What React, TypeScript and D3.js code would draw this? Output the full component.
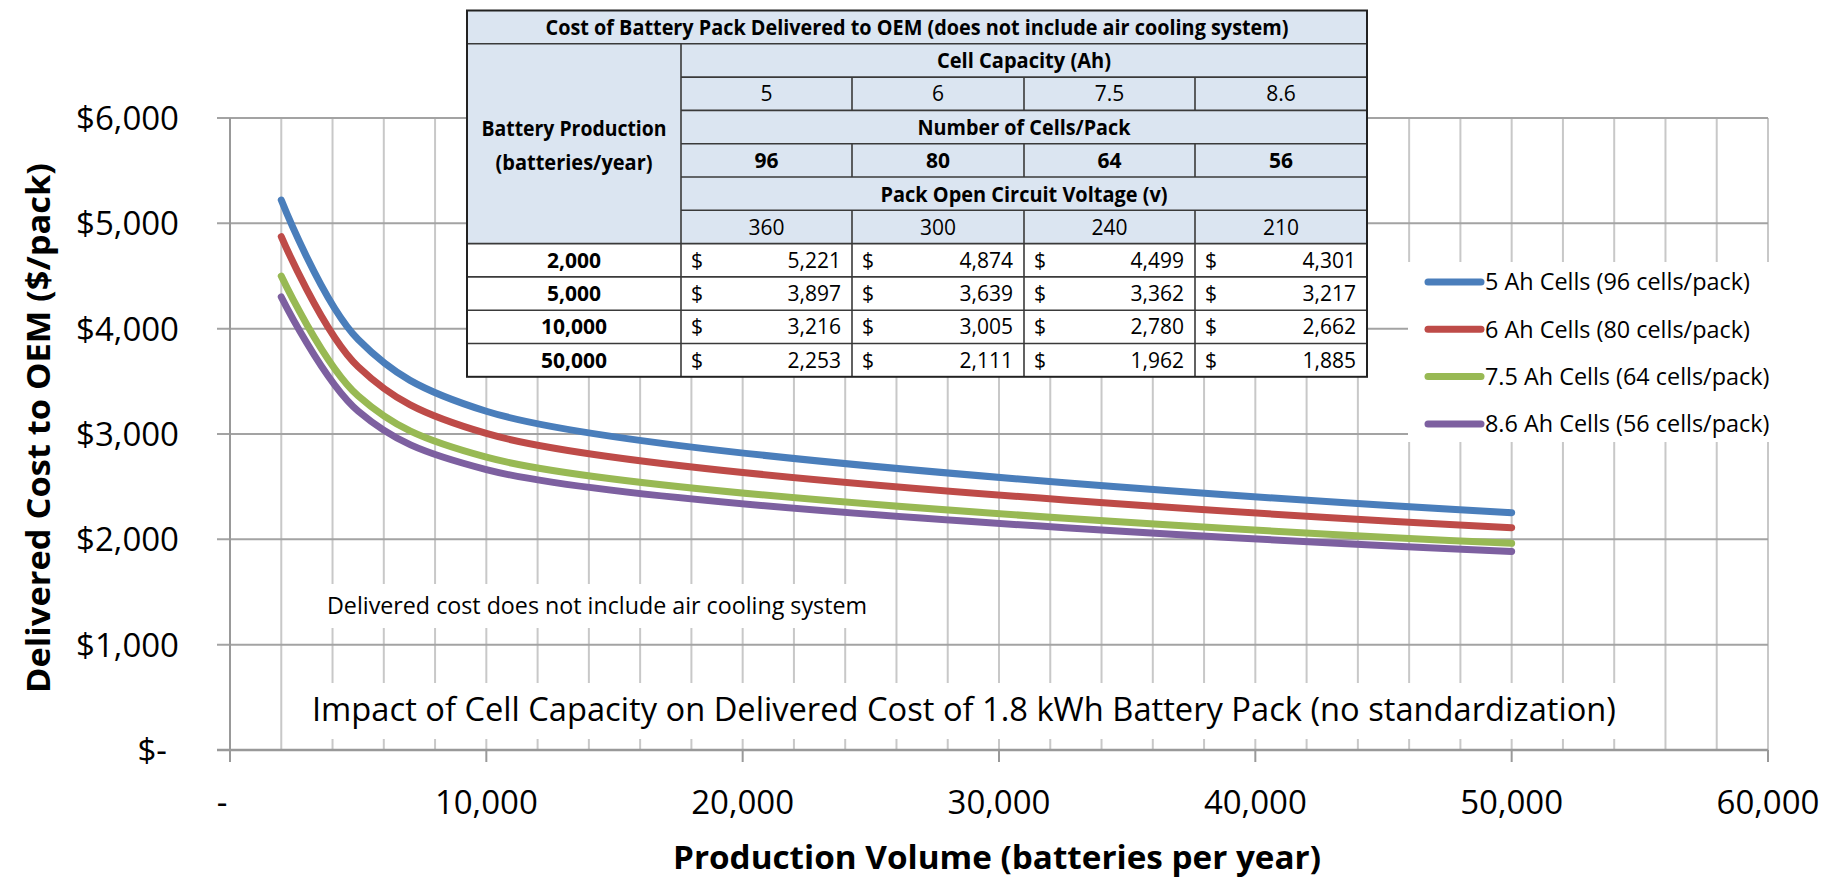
import React from 'react';
import * as d3 from 'd3';

// ---------- data ----------
const volumes = [2000, 5000, 10000, 50000];
const seriesLabels = [
  '5 Ah Cells (96 cells/pack)',
  '6 Ah Cells (80 cells/pack)',
  '7.5 Ah Cells (64 cells/pack)',
  '8.6 Ah Cells (56 cells/pack)',
];
const cellCapacities = ['5', '6', '7.5', '8.6'];
const cellsPerPack = [96, 80, 64, 56];
const packVoltages = [360, 300, 240, 210];
const cost5Ah = [5221, 3897, 3216, 2253];
const cost6Ah = [4874, 3639, 3005, 2111];
const cost75Ah = [4499, 3362, 2780, 1962];
const cost86Ah = [4301, 3217, 2662, 1885];
const seriesCosts = [cost5Ah, cost6Ah, cost75Ah, cost86Ah];
const seriesColors = ['#4a7ebb', '#be4b48', '#98b954', '#7d60a0'];
const xTicks = [0, 10000, 20000, 30000, 40000, 50000, 60000];
const yTicks = [0, 1000, 2000, 3000, 4000, 5000, 6000];
const tableTitle = 'Cost of Battery Pack Delivered to OEM (does not include air cooling system)';
const headCapacity = 'Cell Capacity (Ah)';
const headCells = 'Number of Cells/Pack';
const headVoltage = 'Pack Open Circuit Voltage (v)';
const headProd1 = 'Battery Production';
const headProd2 = '(batteries/year)';
const xTitle = 'Production Volume (batteries per year)';
const yTitle = 'Delivered Cost to OEM ($/pack)';
const noteText = 'Delivered cost does not include air cooling system';
const subtitleText = 'Impact of Cell Capacity on Delivered Cost of 1.8 kWh Battery Pack (no standardization)';

const FONT = "'Open Sans', 'Noto Sans', sans-serif";

export default function App() {
  const W = 1825, H = 879;
  const x = d3.scaleLinear().domain([0, 60000]).range([230, 1768]);
  const y = d3.scaleLinear().domain([0, 6000]).range([750, 118]);
  const line = d3
    .line<[number, number]>()
    .x((d) => x(d[0]))
    .y((d) => y(d[1]))
    .curve(d3.curveCatmullRom.alpha(0.5));
  const fmt = d3.format(',');
  const minorX = d3.range(2000, 60001, 2000);

  // table layout
  const tLeft = 467, tTop = 10.5, rowH = 33.3;
  const colEdges = [467, 681, 852, 1024, 1195, 1367];
  const rowY = (i: number) => tTop + i * rowH;
  const rowC = (i: number) => tTop + (i + 0.5) * rowH;
  const colC = (j: number) => (colEdges[j] + colEdges[j + 1]) / 2;
  const spanC = (colEdges[1] + colEdges[5]) / 2;
  const headFill = '#dbe5f1';
  const lineCol = '#3a3a3a';
  const tfs = 21;

  const tableLines: React.ReactNode[] = [];
  for (let r = 1; r <= 10; r++) {
    const x1 = r >= 2 && r <= 6 ? colEdges[1] : colEdges[0];
    tableLines.push(
      <line key={'h' + r} x1={x1} x2={colEdges[5]} y1={rowY(r)} y2={rowY(r)} stroke={lineCol} strokeWidth={1.6} />
    );
  }
  tableLines.push(
    <line key="v1" x1={colEdges[1]} x2={colEdges[1]} y1={rowY(1)} y2={rowY(11)} stroke={lineCol} strokeWidth={1.6} />
  );
  const splitRows = [2, 4, 6, 7, 8, 9, 10];
  for (const r of splitRows) {
    for (let c = 2; c <= 4; c++) {
      tableLines.push(
        <line key={'v' + r + '-' + c} x1={colEdges[c]} x2={colEdges[c]} y1={rowY(r)} y2={rowY(r + 1)} stroke={lineCol} strokeWidth={1.6} />
      );
    }
  }

  const boldHead = (txt: string, cx: number, cy: number, len: number, key: string) => (
    <text key={key} x={cx} y={cy} dy="0.36em" textAnchor="middle" fontWeight="bold" fontSize={22} textLength={len} lengthAdjust="spacingAndGlyphs">
      {txt}
    </text>
  );

  return (
    <svg width={W} height={H} style={{ position: 'absolute', left: 0, top: 0, background: '#fff' }} fontFamily={FONT}>
      <rect x={0} y={0} width={W} height={H} fill="#fff" />
      {minorX.map((v) => (
        <line key={'gx' + v} x1={x(v)} x2={x(v)} y1={y(6000)} y2={y(0)} stroke="#c8c8c8" strokeWidth={2} />
      ))}
      {yTicks.filter((v) => v > 0).map((v) => (
        <line key={'gy' + v} x1={217} x2={x(60000)} y1={y(v)} y2={y(v)} stroke="#a3a3a3" strokeWidth={2} />
      ))}
      <line x1={217} x2={x(60000)} y1={y(0)} y2={y(0)} stroke="#999" strokeWidth={2.5} />
      {xTicks.filter((v) => v > 0).map((v) => (
        <line key={'tx' + v} x1={x(v)} x2={x(v)} y1={y(0)} y2={y(0) + 12} stroke="#999" strokeWidth={2} />
      ))}
      <line x1={x(0)} x2={x(0)} y1={y(6000)} y2={y(0) + 12} stroke="#999" strokeWidth={2} />

      {yTicks.map((v) => (
        <text key={'yl' + v} x={v === 0 ? 167 : 179} y={y(v)} dy="0.36em" textAnchor="end" fontSize={33} fill="#000">
          {v === 0 ? '$-' : '$' + fmt(v)}
        </text>
      ))}
      {xTicks.map((v) => (
        <text key={'xl' + v} x={v === 0 ? x(v) - 8 : x(v)} y={814} textAnchor="middle" fontSize={33} fill="#000">
          {v === 0 ? '-' : fmt(v)}
        </text>
      ))}

      {seriesCosts.map((arr, i) => (
        <path
          key={'s' + i}
          d={line(volumes.map((v, k) => [v, arr[k]] as [number, number])) || ''}
          fill="none"
          stroke={seriesColors[i]}
          strokeWidth={7}
          strokeLinecap="round"
          strokeLinejoin="round"
        />
      ))}

      <text x={997} y={869} textAnchor="middle" fontWeight="bold" fontSize={33} textLength={648} lengthAdjust="spacingAndGlyphs">
        {xTitle}
      </text>
      <text
        transform="translate(38,428) rotate(-90)"
        textAnchor="middle"
        dy="0.36em"
        fontWeight="bold"
        fontSize={32}
        textLength={530}
        lengthAdjust="spacingAndGlyphs"
      >
        {yTitle}
      </text>

      <rect x={318} y={584} width={562} height={44} fill="#fff" />
      <text x={327} y={606} dy="0.36em" fontSize={23.4} textLength={540} lengthAdjust="spacingAndGlyphs">
        {noteText}
      </text>
      <rect x={300} y={683} width={1330} height={56} fill="#fff" />
      <text x={312} y={709} dy="0.36em" fontSize={33} textLength={1304} lengthAdjust="spacingAndGlyphs">
        {subtitleText}
      </text>

      <rect x={1408} y={262} width={390} height={180} fill="#fff" />
      {seriesLabels.map((lab, i) => {
        const cy = 282 + i * 47.3;
        return (
          <g key={'lg' + i}>
            <line x1={1428} x2={1481} y1={cy} y2={cy} stroke={seriesColors[i]} strokeWidth={7} strokeLinecap="round" />
            <text x={1485} y={cy} dy="0.36em" fontSize={23.4}>
              {lab}
            </text>
          </g>
        );
      })}

      <g>
        <rect x={tLeft} y={rowY(0)} width={colEdges[5] - tLeft} height={rowH * 7} fill={headFill} />
        <rect x={tLeft} y={rowY(7)} width={colEdges[5] - tLeft} height={rowH * 4} fill="#fff" />
        {tableLines}
        <rect x={tLeft} y={rowY(0)} width={colEdges[5] - tLeft} height={rowH * 11} fill="none" stroke="#222" strokeWidth={2} />
        {boldHead(tableTitle, (colEdges[0] + colEdges[5]) / 2, rowC(0), 743, 'tt')}
        {boldHead(headCapacity, spanC, rowC(1), 174, 'hc')}
        {boldHead(headCells, spanC, rowC(3), 213, 'hn')}
        {boldHead(headVoltage, spanC, rowC(5), 287, 'hv')}
        {boldHead(headProd1, colC(0), 128, 185, 'hp1')}
        {boldHead(headProd2, colC(0), 162, 157, 'hp2')}
        {cellCapacities.map((c, j) => (
          <text key={'cc' + j} x={colC(j + 1)} y={rowC(2)} dy="0.36em" textAnchor="middle" fontSize={tfs}>
            {c}
          </text>
        ))}
        {cellsPerPack.map((c, j) => (
          <text key={'cp' + j} x={colC(j + 1)} y={rowC(4)} dy="0.36em" textAnchor="middle" fontSize={tfs} fontWeight="bold">
            {c}
          </text>
        ))}
        {packVoltages.map((c, j) => (
          <text key={'pv' + j} x={colC(j + 1)} y={rowC(6)} dy="0.36em" textAnchor="middle" fontSize={tfs}>
            {c}
          </text>
        ))}
        {volumes.map((v, r) => (
          <g key={'row' + r}>
            <text x={colC(0)} y={rowC(7 + r)} dy="0.36em" textAnchor="middle" fontSize={tfs} fontWeight="bold">
              {fmt(v)}
            </text>
            {seriesCosts.map((arr, j) => (
              <g key={'c' + j}>
                <text x={colEdges[j + 1] + 10} y={rowC(7 + r)} dy="0.36em" fontSize={tfs}>
                  $
                </text>
                <text x={colEdges[j + 2] - 11} y={rowC(7 + r)} dy="0.36em" textAnchor="end" fontSize={tfs}>
                  {fmt(arr[r])}
                </text>
              </g>
            ))}
          </g>
        ))}
      </g>
    </svg>
  );
}
